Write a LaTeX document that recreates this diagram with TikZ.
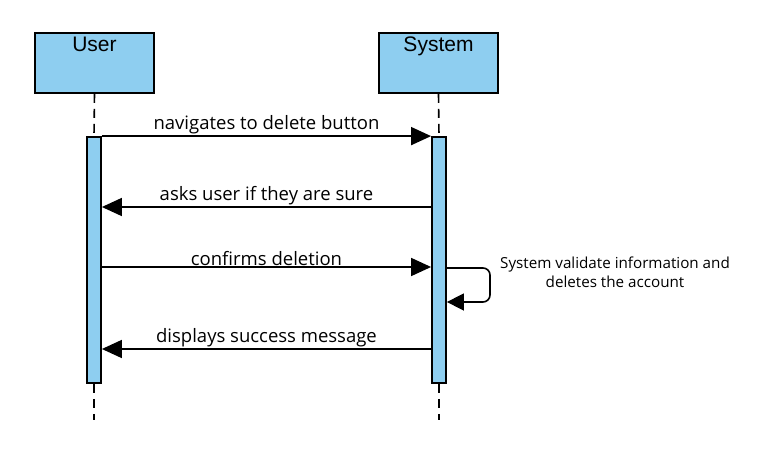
\documentclass[tikz,border=0pt]{standalone}
\usepackage{fontspec}
\setmainfont{Open Sans}
\newfontfamily\headfont{Liberation Sans}
\usepackage{xcolor}
\usetikzlibrary{positioning,arrows.meta}
\definecolor{boxblue}{HTML}{8ECEF0}

\begin{document}
\begin{tikzpicture}
[
x=1pt, y=-1pt,
head-a/.style={rectangle, draw, line width=1.8pt, fill=boxblue, minimum width=119pt, minimum height=60pt, inner sep=0pt},
head-t/.style={black, font=\headfont\fontsize{21}{24}\selectfont, inner sep=0pt},
act-a/.style={rectangle, draw, line width=1.8pt, fill=boxblue, minimum width=14pt, minimum height=246pt, inner sep=0pt},
life-a/.style={line width=1.6pt, dash pattern=on 9pt off 6pt},
msg-a/.style={line width=1.6pt, -{Triangle[length=20pt,width=18pt]}},
self-a/.style={line width=1.6pt, rounded corners=7pt, -{Triangle[length=17pt,width=17pt]}},
text-a/.style={black, font=\fontsize{18.5}{22}\selectfont, inner sep=1pt},
text-b/.style={black, font=\fontsize{15.2}{19}\selectfont, align=center, inner sep=0pt}
]
\useasboundingbox (0,0) rectangle (758,468);
% heads
\node (user)     [head-a] at (94.5,63) {};
\node (user-t)   [head-t, below = 5pt of user.north] {User};
\node (system)   [head-a] at (438.5,63) {};
\node (system-t) [head-t, below = 5pt of system.north] {System};
% activations
\node (act-user)   [act-a] at (94,260) {};
\node (act-system) [act-a] at (439,260) {};
% lifelines
\coordinate (end-user)   at (94,420);
\coordinate (end-system) at (439,420);
\draw[life-a] (user.south) -- (act-user.north);
\draw[life-a] (act-user.south) -- (end-user);
\draw[life-a] (system.south) -- (act-system.north);
\draw[life-a] (act-system.south) -- (end-system);
% messages
\coordinate (m-2) at (0,207);
\coordinate (m-3) at (0,267);
\coordinate (m-4) at (0,349);
\coordinate (s-1) at (0,268);
\coordinate (s-2) at (490,302);
\draw[msg-a] (act-user.north east) -- node[text-a, above=0pt] {navigates to delete button} (act-system.north west);
\draw[msg-a] (act-system.west |- m-2) -- node[text-a, above=0pt] {asks user if they are sure} (act-user.east |- m-2);
\draw[msg-a] (act-user.east |- m-3) -- node[text-a, above=0pt] {confirms deletion} (act-system.west |- m-3);
\draw[msg-a] (act-system.west |- m-4) -- node[text-a, above=0pt] {displays success message} (act-user.east |- m-4);
\draw[self-a] (act-system.east |- s-1) -| (s-2) -- (act-system.east |- s-2);
\node (note) [text-b] at (615,272) {System validate information and\\deletes the account};
\end{tikzpicture}
\end{document}
